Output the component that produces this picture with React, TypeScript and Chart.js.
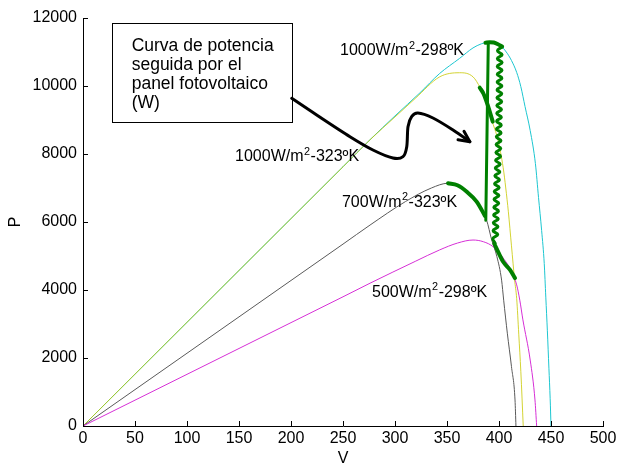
import React, { useEffect, useRef } from "react";
import { Chart, registerables } from "chart.js";

Chart.register(...registerables);

// ---------- axis ticks ----------
const X_TICKS = [0, 50, 100, 150, 200, 250, 300, 350, 400, 450, 500];
const Y_TICKS = [0, 2000, 4000, 6000, 8000, 10000, 12000];

// ---------- P-V curves ----------
const cyanV = [0, 50, 100, 150, 200, 250, 276, 300, 324, 343, 362, 375, 383, 390, 395, 401, 407, 412, 417, 421, 425, 430, 435, 438, 441, 443.5, 445, 446.5, 448, 449.2, 450];
const cyanP = [0, 1525, 3050, 4575, 6100, 7625, 8420, 9120, 9800, 10370, 10810, 11120, 11240, 11290, 11280, 11200, 11000, 10750, 10400, 9980, 9400, 8690, 7720, 6720, 5750, 4780, 3790, 2800, 1700, 800, 0];

const yellowV = [0, 50, 100, 150, 200, 250, 276, 300, 320, 343, 362, 375, 382, 388, 393, 399, 404, 406.5, 409, 412, 415, 417, 419, 421, 423.3];
const yellowP = [0, 1525, 3050, 4575, 6100, 7625, 8420, 9090, 9650, 10270, 10390, 10270, 9940, 9500, 9000, 8410, 7600, 7000, 6300, 5300, 4300, 3750, 2700, 1600, 0];

const grayV = [0, 50, 100, 150, 200, 250, 276, 310, 335, 351, 360, 369, 378, 388, 393, 398, 402.5, 404.5, 408, 412, 415.4, 416.3];
const grayP = [0, 1070, 2140, 3210, 4280, 5350, 5910, 6600, 7000, 7140, 7080, 6890, 6600, 6060, 5470, 4980, 4290, 3700, 2730, 1745, 765, 0];

const magentaV = [0, 50, 100, 150, 200, 250, 276, 320, 343, 360, 375, 385, 394.5, 405, 412, 417, 420, 423, 430, 434.6, 436.2];
const magentaP = [0, 760, 1520, 2280, 3040, 3800, 4200, 4850, 5180, 5380, 5470, 5420, 5270, 4900, 4550, 4150, 3700, 3120, 1940, 765, 0];

// ---------- tracked power path (green) ----------
const capV = [387, 391, 395, 399, 403];
const capP = [11270, 11290, 11280, 11230, 11160];

const dropV = [389.7, 387.3];
const dropP = [11270, 6050];

const wavyV = [403.1, 398.5, 403.0, 398.4, 403.0, 398.3, 402.9, 398.3, 402.8, 398.2, 402.8, 398.1, 402.7, 398.0, 402.6, 397.9, 402.4, 397.8, 402.3, 397.7, 402.2, 397.5, 402.0, 397.4, 401.9, 397.2, 401.7, 397.0, 401.5, 396.7, 401.1, 396.4, 400.8, 396.0, 400.4, 395.7, 400.1, 395.4, 399.9, 395.2, 399.7, 395.0, 399.5, 394.8, 399.3, 394.5, 399.0, 394.3, 398.8, 394.1, 396.3];
const wavyP = [11150, 11035, 10920, 10805, 10690, 10575, 10460, 10345, 10230, 10115, 10000, 9885, 9770, 9655, 9540, 9425, 9310, 9195, 9080, 8965, 8850, 8735, 8620, 8505, 8390, 8275, 8160, 8045, 7930, 7815, 7700, 7585, 7470, 7355, 7240, 7125, 7010, 6895, 6780, 6665, 6550, 6435, 6320, 6205, 6090, 5975, 5860, 5745, 5630, 5515, 5380];

const onYellowV = [381.5, 385, 389, 394];
const onYellowP = [9950, 9780, 9450, 8950];

const onGrayV = [351, 360, 369, 378.5, 386.5];
const onGrayP = [7140, 7080, 6890, 6600, 6180];

const onMagentaV = [395.5, 400, 404, 410.6, 415.4];
const onMagentaP = [5360, 5070, 4830, 4590, 4350];

// ---------- annotation texts ----------
const CURVE_LABELS = [
  "1000W/m²-298ºK",
  "1000W/m²-323ºK",
  "700W/m²-323ºK",
  "500W/m²-298ºK",
];
const BOX_LINES = ["Curva de potencia", "seguida por el", "panel fotovoltaico", "(W)"];

// annotation placement (data units)
const LABEL_POS = [
  { v: 247.1, p: 10912 },
  { v: 146.2, p: 7794 },
  { v: 249, p: 6450 },
  { v: 277.9, p: 3803 },
];
const BOX_POS = { v0: 27.6, p0: 11844, v1: 201.3, p1: 8941, textV: 46.8, lineP: [11038, 10474, 9906, 9341] };
const ARROW_PATH = [
  [200.7, 9638], [224.7, 9147], [256.7, 8509], [278.8, 8118], [298, 7882], [307.7, 7921],
  [311.3, 8215], [312.5, 8803], [316, 9097], [322, 9206], [336.5, 9059], [355.8, 8706], [372, 8362],
];

const FONT = '"Liberation Sans", Arial, Helvetica, sans-serif';

const pts = (vs: number[], ps: number[]) => vs.map((v, i) => ({ x: v, y: ps[i] }));

function drawSupText(ctx: CanvasRenderingContext2D, text: string, X: number, Y: number, size: number) {
  const parts = text.split("²");
  ctx.font = `${size}px ${FONT}`;
  ctx.fillText(parts[0], X, Y);
  let w = ctx.measureText(parts[0]).width;
  if (parts.length > 1) {
    ctx.font = `${size * 0.68}px ${FONT}`;
    ctx.fillText("2", X + w + 0.5, Y - size * 0.4);
    w += ctx.measureText("2").width + 1;
    ctx.font = `${size}px ${FONT}`;
    ctx.fillText(parts[1], X + w, Y);
  }
}

const annotPlugin = {
  id: "annot",
  afterDraw(chart: any) {
    const { ctx, chartArea } = chart;
    const xs = chart.scales.x;
    const ys = chart.scales.y;
    const px = (v: number) => xs.getPixelForValue(v);
    const py = (p: number) => ys.getPixelForValue(p);
    ctx.save();

    // inward tick marks
    ctx.strokeStyle = "#000";
    ctx.lineWidth = 1;
    ctx.beginPath();
    for (const t of X_TICKS) {
      const X = Math.round(px(t)) + 0.5;
      ctx.moveTo(X, chartArea.bottom);
      ctx.lineTo(X, chartArea.bottom - 5);
    }
    for (const t of Y_TICKS) {
      const Y = Math.round(py(t)) + 0.5;
      ctx.moveTo(chartArea.left, Y);
      ctx.lineTo(chartArea.left + 5, Y);
    }
    ctx.stroke();

    // axis titles
    ctx.fillStyle = "#000";
    ctx.font = `16px ${FONT}`;
    ctx.textAlign = "center";
    ctx.textBaseline = "middle";
    ctx.fillText("V", (chartArea.left + chartArea.right) / 2, 459);
    ctx.save();
    ctx.translate(16, (chartArea.top + chartArea.bottom) / 2);
    ctx.rotate(-Math.PI / 2);
    ctx.fillText("P", 0, 0);
    ctx.restore();

    // curve labels
    ctx.textAlign = "left";
    ctx.textBaseline = "alphabetic";
    CURVE_LABELS.forEach((t, i) => {
      drawSupText(ctx, t, px(LABEL_POS[i].v), py(LABEL_POS[i].p), 16);
    });

    // text box
    const bx0 = Math.round(px(BOX_POS.v0)) + 0.5;
    const by0 = Math.round(py(BOX_POS.p0)) + 0.5;
    const bx1 = Math.round(px(BOX_POS.v1)) + 0.5;
    const by1 = Math.round(py(BOX_POS.p1)) + 0.5;
    ctx.fillStyle = "#fff";
    ctx.fillRect(bx0, by0, bx1 - bx0, by1 - by0);
    ctx.strokeStyle = "#000";
    ctx.lineWidth = 1;
    ctx.strokeRect(bx0, by0, bx1 - bx0, by1 - by0);
    ctx.fillStyle = "#000";
    ctx.font = `17.5px ${FONT}`;
    BOX_LINES.forEach((line, i) => {
      ctx.fillText(line, px(BOX_POS.textV), py(BOX_POS.lineP[i]));
    });

    // curved arrow (Catmull-Rom through the path points)
    const P = ARROW_PATH.map(([v, p]) => [px(v), py(p)]);
    ctx.strokeStyle = "#000";
    ctx.lineWidth = 3;
    ctx.lineCap = "round";
    ctx.lineJoin = "round";
    ctx.beginPath();
    ctx.moveTo(P[0][0], P[0][1]);
    for (let i = 0; i < P.length - 1; i++) {
      const p0 = P[Math.max(0, i - 1)];
      const p1 = P[i];
      const p2 = P[i + 1];
      const p3 = P[Math.min(P.length - 1, i + 2)];
      const c1x = p1[0] + (p2[0] - p0[0]) / 6;
      const c1y = p1[1] + (p2[1] - p0[1]) / 6;
      const c2x = p2[0] - (p3[0] - p1[0]) / 6;
      const c2y = p2[1] - (p3[1] - p1[1]) / 6;
      ctx.bezierCurveTo(c1x, c1y, c2x, c2y, p2[0], p2[1]);
    }
    ctx.stroke();
    // arrow head
    const tip = P[P.length - 1];
    const prev = P[P.length - 2];
    const ang = Math.atan2(tip[1] - prev[1], tip[0] - prev[0]);
    const L = 12;
    ctx.beginPath();
    ctx.moveTo(tip[0] - L * Math.cos(ang - 0.45), tip[1] - L * Math.sin(ang - 0.45));
    ctx.lineTo(tip[0], tip[1]);
    ctx.lineTo(tip[0] - L * Math.cos(ang + 0.45), tip[1] - L * Math.sin(ang + 0.45));
    ctx.stroke();

    ctx.restore();
  },
};

export default function App() {
  const canvasRef = useRef<HTMLCanvasElement | null>(null);

  useEffect(() => {
    const canvas = canvasRef.current;
    if (!canvas) return;
    const thin = (label: string, vs: number[], ps: number[], color: string, order: number) => ({
      label,
      data: pts(vs, ps),
      showLine: true,
      borderColor: color,
      borderWidth: 1,
      pointRadius: 0,
      cubicInterpolationMode: "monotone" as const,
      order,
    });
    const green = (label: string, vs: number[], ps: number[], width: number, mono: boolean) => ({
      label,
      data: pts(vs, ps),
      showLine: true,
      borderColor: "#008000",
      borderWidth: width,
      pointRadius: 0,
      tension: mono ? 0 : 0.45,
      cubicInterpolationMode: mono ? ("monotone" as const) : ("default" as const),
      borderCapStyle: "round" as const,
      borderJoinStyle: "round" as const,
      order: 0,
    });

    const chart = new Chart(canvas, {
      type: "scatter",
      data: {
        datasets: [
          green("cap", capV, capP, 4, true),
          green("drop", dropV, dropP, 3, false),
          green("wavy", wavyV, wavyP, 3, false),
          green("onYellow", onYellowV, onYellowP, 4, true),
          green("onGray", onGrayV, onGrayP, 4, true),
          green("onMagenta", onMagentaV, onMagentaP, 4, true),
          thin("500W/m²-298ºK", magentaV, magentaP, "#d62fd6", 1),
          thin("700W/m²-323ºK", grayV, grayP, "#5a5a5a", 2),
          thin("1000W/m²-323ºK", yellowV, yellowP, "rgba(200,200,0,0.8)", 3),
          thin("1000W/m²-298ºK", cyanV, cyanP, "#1cc6d0", 4),
        ],
      },
      options: {
        responsive: false,
        animation: false,
        devicePixelRatio: 1,
        layout: { padding: { top: 18, right: 23, left: 0, bottom: 0 } },
        plugins: {
          legend: { display: false },
          tooltip: { enabled: false },
          title: { display: false },
        },
        scales: {
          x: {
            type: "linear",
            min: 0,
            max: 500,
            afterFit: (s: any) => {
              s.height = 41;
            },
            afterBuildTicks: (s: any) => {
              s.ticks = X_TICKS.map((v) => ({ value: v }));
            },
            ticks: {
              autoSkip: false,
              maxRotation: 0,
              color: "#000",
              padding: 3,
              font: { family: FONT, size: 16 },
            },
            grid: { drawOnChartArea: false, drawTicks: false },
            border: { display: true, color: "#000", width: 1 },
          },
          y: {
            type: "linear",
            min: 0,
            max: 12000,
            afterFit: (s: any) => {
              s.width = 83;
            },
            afterBuildTicks: (s: any) => {
              s.ticks = Y_TICKS.map((v) => ({ value: v }));
            },
            ticks: {
              color: "#000",
              padding: 6,
              font: { family: FONT, size: 16 },
              callback: (v: any) => String(v),
            },
            grid: { drawOnChartArea: false, drawTicks: false },
            border: { display: true, color: "#000", width: 1 },
          },
        },
      },
      plugins: [annotPlugin],
    });
    return () => chart.destroy();
  }, []);

  return (
    <div style={{ position: "fixed", left: 0, top: 0, width: 626, height: 467, background: "#fff" }}>
      <canvas ref={canvasRef} width={626} height={467} style={{ display: "block" }} />
    </div>
  );
}
